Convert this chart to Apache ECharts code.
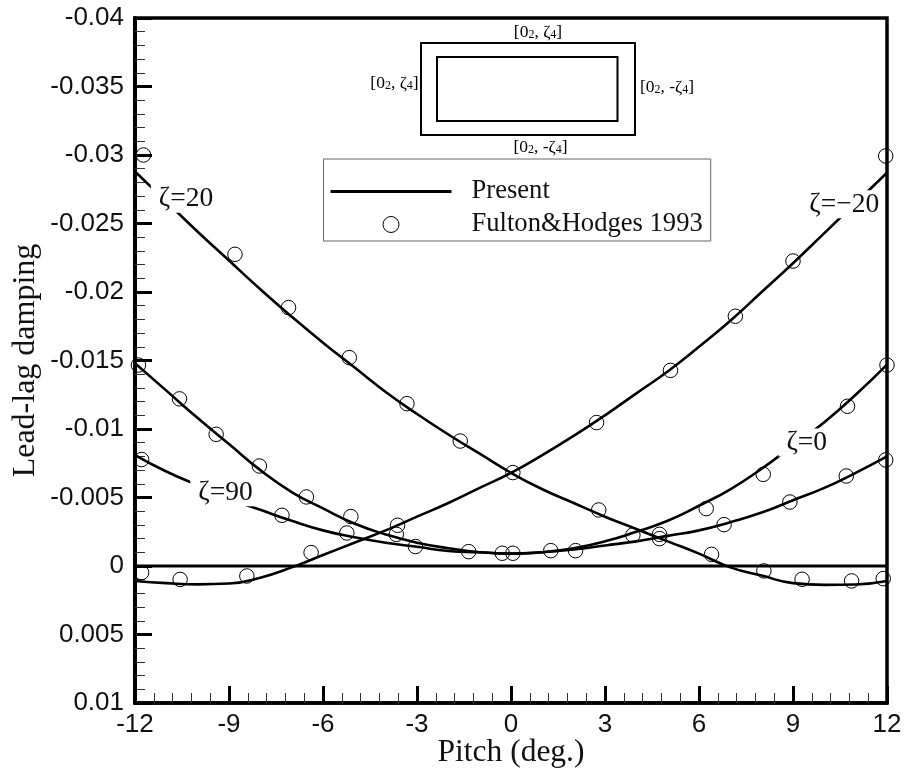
<!DOCTYPE html>
<html>
<head>
<meta charset="utf-8">
<style>html,body{margin:0;padding:0;background:#fff}#c{width:904px;height:769px}</style>
<script src="https://cdn.jsdelivr.net/npm/echarts@6/dist/echarts.min.js"></script>
</head>
<body>
<div id="c"></div>
<script>
const pitch = [-12,-11,-10,-9,-8,-7,-6,-5,-4,-3,-2,-1,0,1,2,3,4,5,6,7,8,9,10,11,12];
const zetaP20 = [-0.0288,-0.0266,-0.0244,-0.0223,-0.0202,-0.0182,-0.0163,-0.0145,-0.0127,-0.0111,-0.0096,-0.0082,-0.0068,-0.0056,-0.0046,-0.0036,-0.0027,-0.0018,-0.0009,0.0001,0.0007,0.00125,0.00138,0.00135,0.0011];
const zetaM20 = [0.0011,0.00125,0.00134,0.00128,0.00085,0.0001,-0.0008,-0.0017,-0.0026,-0.0036,-0.0046,-0.0057,-0.0068,-0.0081,-0.0095,-0.011,-0.0126,-0.0142,-0.016,-0.0179,-0.02,-0.0221,-0.0243,-0.0265,-0.0287];
const zeta0 = [-0.0148,-0.0128,-0.0108,-0.0089,-0.007,-0.0054,-0.0042,-0.0031,-0.0023,-0.0017,-0.0013,-0.001,-0.0009,-0.001,-0.0013,-0.0018,-0.0025,-0.0033,-0.0044,-0.0056,-0.0071,-0.0088,-0.0105,-0.0125,-0.0147];
const zeta90 = [-0.0081,-0.0069,-0.0059,-0.0049,-0.0041,-0.0033,-0.0026,-0.0021,-0.0017,-0.0014,-0.0011,-0.001,-0.0009,-0.001,-0.0012,-0.0015,-0.0018,-0.0022,-0.0026,-0.0032,-0.0039,-0.0048,-0.0057,-0.0068,-0.008];
const zeroX = [-12,12];
const zeroY = [0,0];
const fultonX = [-11.73,-8.81,-7.10,-5.16,-3.32,-1.62,0.06,2.80,4.74,6.40,8.07,9.29,10.87,11.88,11.96,9.00,7.16,5.09,2.73,-3.62,-6.38,-8.43,-10.56,-11.79,-11.89,-10.58,-9.41,-8.03,-6.53,-5.11,-3.66,-3.05,-1.35,-0.28,0.06,1.27,2.06,3.89,4.74,6.23,8.05,10.74,12.0,-11.79,-7.31,-5.24,6.80,8.90,10.70,11.96];
const fultonY = [-0.03,-0.02275,-0.01886,-0.01521,-0.01185,-0.00912,-0.00682,-0.00409,-0.00231,-0.00085,0.00036,0.00097,0.00109,0.00092,-0.02993,-0.02226,-0.01823,-0.01428,-0.01047,-0.00297,-0.00098,0.00073,0.00098,0.00048,-0.01467,-0.0122,-0.00961,-0.0073,-0.00504,-0.00361,-0.00231,-0.00142,-0.00105,-0.00093,-0.00093,-0.00112,-0.00112,-0.00226,-0.002,-0.00419,-0.00669,-0.01166,-0.01467,-0.00777,-0.0037,-0.00241,-0.00302,-0.00467,-0.00657,-0.00774];
const noteText = ['ζ=20','ζ=−20','ζ=0','ζ=90'];
const noteX = [-10.42,10.59,9.39,-9.16];
const noteY = [-0.0268,-0.0264,-0.00902,-0.00538];
const legendNames = ['Present','Fulton&Hodges 1993'];

const zip = (a,b) => a.map((v,i)=>[v,b[i]]);
const curve = ys => ({
  name: legendNames[0], type:'line', data: zip(pitch,ys), smooth:0.5, symbol:'none', z:3,
  lineStyle:{color:'#000',width:2.6}, itemStyle:{color:'#000'}
});
const serif = '"Liberation Serif","Times New Roman",serif';
const sans = '"Liberation Sans",Arial,sans-serif';
const sub = t => '{b|'+t[0]+'}{s|2}{b|'+t[1]+'}{s|4}{b|]}';
const rich = {b:{fontFamily:serif,fontSize:17.5,color:'#111'},s:{fontFamily:serif,fontSize:12,padding:[6,0,0,0],color:'#111'}};
const inset = (x,y,t) => ({type:'text',x:x,y:y,z:10,style:{text:sub(t),rich:rich,fontFamily:serif,fontSize:17.5,align:'center',verticalAlign:'middle'}});
const rect = (x,y,w,h) => ({type:'rect',z:10,shape:{x:x,y:y,width:w,height:h},style:{fill:'none',stroke:'#000',lineWidth:2}});

const chart = echarts.init(document.getElementById('c'),null,{renderer:'canvas'});
chart.setOption({
  animation:false,
  backgroundColor:'#fff',
  grid:{left:135,right:17,top:18,bottom:66,outerBoundsMode:'none',containLabel:false,show:true,borderColor:'#000',borderWidth:3.5,backgroundColor:'transparent'},
  legend:{
    data:[{name:legendNames[0],icon:'path://M0 0H121V3H0Z'},{name:legendNames[1],itemStyle:{borderWidth:1,color:'transparent',borderColor:'#000'}}],
    orient:'vertical', left:323.5, top:159, padding:[19,8,3,7],
    itemWidth:121, itemHeight:16, itemGap:6,
    borderColor:'#666', borderWidth:1, backgroundColor:'#fff',
    textStyle:{fontFamily:serif,fontSize:26.6,color:'#111',padding:[0,0,0,15]}
  },
  xAxis:{
    type:'value',min:-12,max:12,interval:3,
    axisLine:{show:true,onZero:false,lineStyle:{color:'#000',width:3.5}},
    axisTick:{show:true,inside:true,length:17,lineStyle:{color:'#000',width:3}},
    minorTick:{show:true,splitNumber:5,length:10,lineStyle:{color:'#333',width:1}},
    splitLine:{show:false},minorSplitLine:{show:false},
    axisLabel:{color:'#111',fontFamily:sans,fontSize:26,margin:9,hideOverlap:false,showMinLabel:true,showMaxLabel:true},
    name:'Pitch (deg.)',nameLocation:'middle',nameGap:34,nameMoveOverlap:false,
    nameTextStyle:{fontFamily:serif,fontSize:31.5,color:'#111'}
  },
  yAxis:{
    type:'value',inverse:true,min:-0.04,max:0.01,interval:0.005,
    axisLine:{show:true,onZero:false,lineStyle:{color:'#000',width:4}},
    axisTick:{show:true,inside:true,length:17,lineStyle:{color:'#000',width:3}},
    minorTick:{show:true,splitNumber:5,length:10,lineStyle:{color:'#333',width:1}},
    splitLine:{show:false},minorSplitLine:{show:false},
    axisLabel:{color:'#111',fontFamily:sans,fontSize:26,margin:11,hideOverlap:false,showMinLabel:true,showMaxLabel:true,
      formatter:v=>String(+v.toFixed(3))},
    name:'Lead-lag damping',nameLocation:'middle',nameGap:93,nameMoveOverlap:false,
    nameTextStyle:{fontFamily:serif,fontSize:32,color:'#111'}
  },
  graphic:[
    rect(421,43,214,92), rect(437,57,180.5,64),
    inset(538,32,['[0',', ζ']), inset(394.5,83,['[0',', ζ']),
    inset(667,87,['[0',', -ζ']), inset(540.5,147,['[0',', -ζ'])
  ],
  series:[
    curve(zetaP20),curve(zetaM20),curve(zeta0),curve(zeta90),
    {name:'zero',type:'line',data:zip(zeroX,zeroY),symbol:'none',z:3,lineStyle:{color:'#000',width:3}},
    {name:'notes',type:'scatter',symbolSize:0,z:6,clip:false,itemStyle:{opacity:1},
     data:noteText.map((t,i)=>({value:[noteX[i],noteY[i]],label:{formatter:t}})),
     label:{show:true,position:'inside',fontFamily:serif,fontSize:27.5,color:'#111',backgroundColor:'#fff',padding:[0,5,0,8]}},
    {name:legendNames[1],type:'scatter',data:zip(fultonX,fultonY),symbol:'circle',symbolSize:14.5,z:7,clip:false,
     itemStyle:{color:'transparent',borderColor:'#000',borderWidth:1,opacity:1}}
  ]
});
</script>
</body>
</html>
